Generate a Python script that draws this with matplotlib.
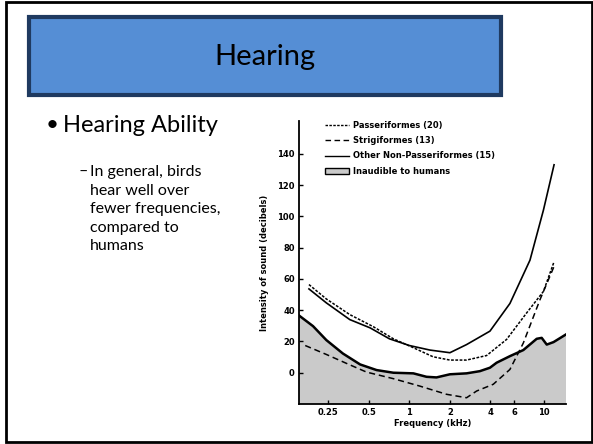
import numpy as np
import matplotlib
matplotlib.use("Agg")
import matplotlib.pyplot as plt
from matplotlib.lines import Line2D
from matplotlib.patches import Patch, Rectangle

# human hearing threshold (top of grey area)
human_f = [0.151, 0.192, 0.241, 0.32, 0.43, 0.57, 0.76, 1.07, 1.34, 1.59, 2.0, 2.66,
           3.34, 3.97, 4.45, 5.59, 7.03, 8.84, 9.63, 10.5, 11.8, 14.6]
human_db = [36.6, 29.8, 20.9, 12.3, 5.3, 1.7, 0.0, -0.4, -2.6, -3.0, -1.0, -0.4,
            1.0, 3.2, 6.4, 10.6, 14.5, 21.7, 22.3, 18.0, 19.6, 24.5]

other_f = [0.179, 0.241, 0.36, 0.51, 0.71, 1.0, 1.42, 2.0, 2.66, 3.97, 5.59, 7.88, 9.92, 11.9]
other_db = [53.6, 44.7, 34.0, 28.7, 21.7, 17.4, 14.5, 12.8, 18.0, 26.6, 44.3, 72.0, 104.0, 133.0]

pass_f = [0.179, 0.241, 0.36, 0.54, 0.76, 1.07, 1.5, 2.0, 2.66, 3.75, 5.28, 7.45, 9.92, 11.9]
pass_db = [56.4, 47.2, 37.2, 29.4, 21.7, 16.0, 10.2, 8.1, 8.1, 11.0, 21.3, 38.3, 52.0, 71.0]

strig_f = [0.168, 0.241, 0.34, 0.48, 0.76, 1.19, 1.89, 2.66, 3.16, 4.2, 5.59, 7.03, 9.36, 11.9]
strig_db = [17.4, 11.7, 6.0, 0.4, -3.8, -8.5, -13.8, -16.0, -11.7, -7.4, 2.1, 19.0, 46.8, 68.0]

x_ticks = [0.25, 0.5, 1, 2, 4, 6, 10]
x_labels = ["0.25", "0.5", "1", "2", "4", "6", "10"]
y_ticks = [0, 20, 40, 60, 80, 100, 120, 140]

fig = plt.figure(figsize=(5.93, 4.44), dpi=100)
plt.rcParams["font.family"] = ["Lato", "DejaVu Sans"]

# slide frame
fig.patches.append(Rectangle((6 / 593, 2 / 444), 586 / 593, 440 / 444, transform=fig.transFigure,
                             fill=False, edgecolor="black", linewidth=2))
# title box
fig.patches.append(Rectangle((29 / 593, 1 - 95 / 444), 472 / 593, 78 / 444, transform=fig.transFigure,
                             facecolor="#558ED5", edgecolor="#1F3A60", linewidth=3))
fig.text(265 / 593, 1 - 57 / 444, "Hearing", ha="center", va="center", fontsize=21)

# bullet text
fig.text(46 / 593, 1 - 125 / 444, "\u2022", ha="left", va="center", fontsize=16)
fig.text(63 / 593, 1 - 125 / 444, "Hearing Ability", ha="left", va="center", fontsize=17)
fig.text(78 / 593, 1 - 172 / 444, "\u2013", ha="left", va="center", fontsize=11.5)
sub_lines = ["In general, birds", "hear well over", "fewer frequencies,", "compared to", "humans"]
for i, s in enumerate(sub_lines):
    fig.text(90 / 593, 1 - (172 + 18.5 * i) / 444, s, ha="left", va="center", fontsize=11.5)

ax = fig.add_axes([299 / 593, 40 / 444, 267 / 593, 283 / 444])
ax.set_xscale("log")
ax.set_xlim(0.151, 14.6)
ax.set_ylim(-20, 161)

ax.fill_between(human_f, human_db, -20, facecolor="#CACACA", edgecolor="none")
ax.plot(human_f, human_db, color="black", linewidth=1.8)
ax.plot(other_f, other_db, color="black", linewidth=1.2)
ax.plot(pass_f, pass_db, color="black", linewidth=1.1, linestyle=(0, (1.8, 1)))
ax.plot(strig_f, strig_db, color="black", linewidth=1.1, linestyle=(0, (4, 2.5)))

for s in ["top", "right"]:
    ax.spines[s].set_visible(False)
for s in ["left", "bottom"]:
    ax.spines[s].set_linewidth(1.3)

ax.set_xticks(x_ticks)
ax.set_xticklabels(x_labels)
ax.minorticks_off()
ax.set_yticks(y_ticks)
ax.tick_params(direction="in", length=3, width=1, labelsize=6, pad=3)
for lab in ax.get_xticklabels() + ax.get_yticklabels():
    lab.set_fontweight("bold")
    lab.set_family(["DejaVu Sans"])
ax.set_xlabel("Frequency (kHz)", fontsize=6, fontweight="bold", family=["DejaVu Sans"], labelpad=1)
ax.set_ylabel("Intensity of sound (decibels)", fontsize=6, fontweight="bold", family=["DejaVu Sans"], labelpad=6)

handles = [
    Line2D([], [], color="black", linewidth=1, linestyle=(0, (1.8, 1))),
    Line2D([], [], color="black", linewidth=1, linestyle=(0, (4, 2.5))),
    Line2D([], [], color="black", linewidth=1),
    Patch(facecolor="#CACACA", edgecolor="black", linewidth=1),
]
labels = ["Passeriformes (20)", "Strigiformes (13)", "Other Non-Passeriformes (15)", "Inaudible to humans"]
leg = ax.legend(handles, labels, loc="upper left", bbox_to_anchor=(0.085, 1.012), frameon=False,
                prop={"size": 6, "weight": "bold", "family": ["DejaVu Sans"]},
                handlelength=2.9, handletextpad=0.5, labelspacing=0.75, borderaxespad=0)

fig.savefig("out.png", dpi=100)
